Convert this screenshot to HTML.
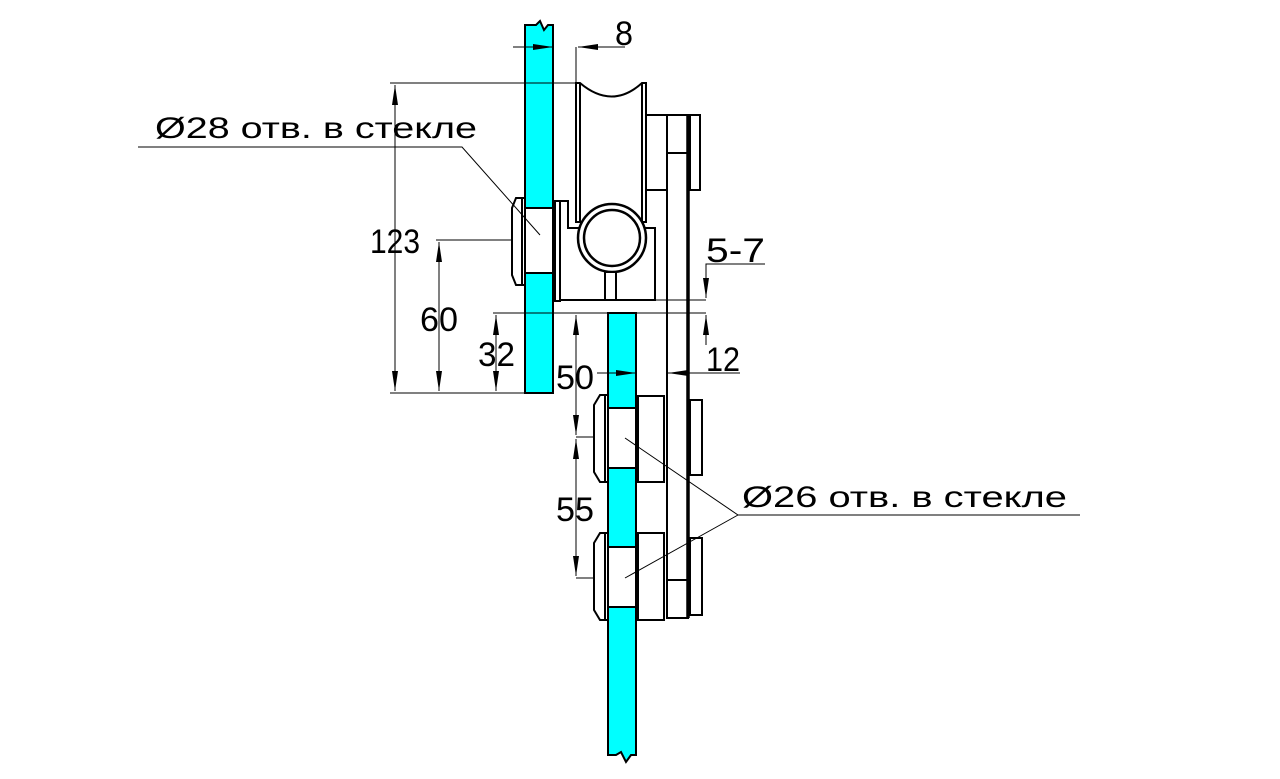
<!DOCTYPE html>
<html><head><meta charset="utf-8"><style>html,body{margin:0;padding:0;background:#fff}svg{display:block}</style></head>
<body>
<svg width="1280" height="779" viewBox="0 0 1280 779" xmlns="http://www.w3.org/2000/svg" font-family="'Liberation Sans',sans-serif">
<defs>
<marker id="a" viewBox="0 0 20 6" refX="20" refY="3" markerWidth="20" markerHeight="6" markerUnits="userSpaceOnUse" orient="auto-start-reverse"><path d="M0,0 L20,3 L0,6z" fill="#000"/></marker>
</defs>
<g stroke="#000" stroke-width="2" fill="#0ff">
<path d="M525,25 L536,25 L540,21 L544,30 L548,25 L553,25 L553,208 L525,208 Z"/>
<rect x="525" y="273" width="28" height="120"/>
<path d="M525,208 V273 M553,208 V273" fill="none"/>
<rect x="608" y="313" width="28" height="95"/>
<rect x="608" y="468" width="28" height="79"/>
<path d="M608,607 H636 V755 L631,755 L626,762 L621,752 L616,755 L608,755 Z"/>
<path d="M608,408 V468 M636,408 V468 M608,547 V607 M636,547 V607" fill="none"/>
</g>
<g stroke="#000" stroke-width="2" fill="#fff">
<path d="M522,198 H516 L512,208 V275 L516,285 H522 Z"/>
<path d="M522,198 H525 V285 H522" fill="none"/>
<path d="M576,83 H580 Q612,110 642,83 H646 V222 H576 Z"/>
<path d="M580,83 V222 M642,83 V222" fill="none"/>
<rect x="646" y="115" width="21" height="75"/>
<path d="M555,201 H568 V228 H655 V300 H560 V301 H555 Z"/>
<path d="M560,201 V300" fill="none"/>
<circle cx="612" cy="238" r="34" stroke-width="2.5"/>
<circle cx="612" cy="238" r="28" stroke-width="2.5"/>
<rect x="605" y="272" width="11" height="28"/>
<rect x="667" y="115" width="21" height="503"/>
<path d="M688,115 V618" stroke-width="3.5" fill="none"/>
<path d="M667,153 H688 M667,580 H688" fill="none"/>
<rect x="690" y="115" width="10" height="75"/>
<rect x="690" y="400" width="12" height="75"/>
<rect x="690" y="538" width="12" height="77"/>
<path d="M605,395 H600 L594,405 V472 L600,482 H605 Z"/>
<path d="M605,395 H608 V482 H605" fill="none"/>
<path d="M605,533 H600 L594,543 V610 L600,620 H605 Z"/>
<path d="M605,533 H608 V620 H605" fill="none"/>
<rect x="638" y="396" width="26" height="86"/>
<rect x="638" y="533" width="26" height="87"/>
</g>
<g stroke="#000" stroke-width="1" fill="none">
<path d="M390,83 H576 M390,393 H553 M436,240 H512 M493,313 H706 M655,300 H706 M576,47 V83"/>
<path d="M395,85 V391" marker-start="url(#a)" marker-end="url(#a)"/>
<path d="M439,242 V391" marker-start="url(#a)" marker-end="url(#a)"/>
<path d="M496,315 V391" marker-start="url(#a)" marker-end="url(#a)"/>
<path d="M576,315 V435" marker-start="url(#a)"/>
<path d="M576,391 V435" marker-end="url(#a)"/>
<path d="M576,439 V576" marker-start="url(#a)" marker-end="url(#a)"/>
<path d="M576,437 H594 M576,578 H594"/>
<path d="M513,47 H553" marker-end="url(#a)"/>
<path d="M625,47 H578" marker-end="url(#a)"/>
<path d="M597,373 H636" marker-end="url(#a)"/>
<path d="M740,373 H668" marker-end="url(#a)"/>
<path d="M765,264 H706 V298" marker-end="url(#a)"/>
<path d="M706,345 V315" marker-end="url(#a)"/>
<path d="M138,147 H462 L540,235"/>
<path d="M1080,515 H738 L625,438 M738,515 L625,578"/>
</g>
<g fill="#000" font-size="34">
<text x="370" y="253" textLength="50" lengthAdjust="spacingAndGlyphs">123</text>
<text x="420" y="331" textLength="38" lengthAdjust="spacingAndGlyphs">60</text>
<text x="478" y="366" textLength="37" lengthAdjust="spacingAndGlyphs">32</text>
<text x="556" y="389" textLength="38" lengthAdjust="spacingAndGlyphs">50</text>
<text x="556" y="521" textLength="38" lengthAdjust="spacingAndGlyphs">55</text>
<text x="706" y="371" textLength="34" lengthAdjust="spacingAndGlyphs">12</text>
<text x="706" y="262" textLength="59" lengthAdjust="spacingAndGlyphs">5-7</text>
<text x="615" y="45" textLength="18" lengthAdjust="spacingAndGlyphs">8</text>
<text x="155" y="138" font-size="30" textLength="322" lengthAdjust="spacingAndGlyphs">Ø28 отв. в стекле</text>
<text x="742" y="507" font-size="30" textLength="325" lengthAdjust="spacingAndGlyphs">Ø26 отв. в стекле</text>
</g>
</svg>
</body></html>
